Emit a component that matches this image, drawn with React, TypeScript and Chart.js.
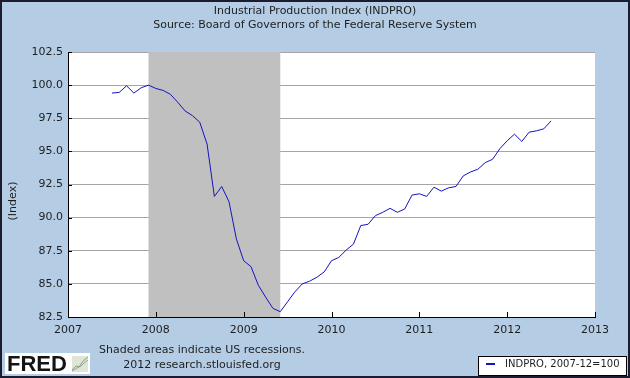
import { useEffect, useRef } from 'react';
import { Chart, registerables } from 'chart.js';

Chart.register(...registerables);

const TITLE = 'Industrial Production Index (INDPRO)';
const SUBTITLE = 'Source: Board of Governors of the Federal Reserve System';
const Y_TITLE = '(Index)';
const SERIES_LABEL = 'INDPRO, 2007-12=100';
const FOOTNOTE_1 = 'Shaded areas indicate US recessions.';
const FOOTNOTE_2 = '2012 research.stlouisfed.org';

const months = [
  '2007-07', '2007-08', '2007-09', '2007-10', '2007-11', '2007-12',
  '2008-01', '2008-02', '2008-03', '2008-04', '2008-05', '2008-06',
  '2008-07', '2008-08', '2008-09', '2008-10', '2008-11', '2008-12',
  '2009-01', '2009-02', '2009-03', '2009-04', '2009-05', '2009-06',
  '2009-07', '2009-08', '2009-09', '2009-10', '2009-11', '2009-12',
  '2010-01', '2010-02', '2010-03', '2010-04', '2010-05', '2010-06',
  '2010-07', '2010-08', '2010-09', '2010-10', '2010-11', '2010-12',
  '2011-01', '2011-02', '2011-03', '2011-04', '2011-05', '2011-06',
  '2011-07', '2011-08', '2011-09', '2011-10', '2011-11', '2011-12',
  '2012-01', '2012-02', '2012-03', '2012-04', '2012-05', '2012-06',
  '2012-07',
];

const values = [
  99.4, 99.45, 99.95, 99.4, 99.8, 100.0,
  99.75, 99.6, 99.3, 98.7, 98.05, 97.7,
  97.2, 95.55, 91.6, 92.35, 91.2, 88.4,
  86.75, 86.3, 84.9, 84.0, 83.15, 82.9,
  83.65, 84.4, 85.0, 85.2, 85.5, 85.9,
  86.75, 87.0, 87.55, 88.0, 89.4, 89.5,
  90.15, 90.4, 90.7, 90.4, 90.65, 91.7,
  91.8, 91.6, 92.3, 92.0, 92.25, 92.35,
  93.15, 93.45, 93.65, 94.15, 94.4, 95.2,
  95.8, 96.3, 95.75, 96.45, 96.55, 96.7,
  97.3,
];

const recessionStart = '2007-12';
const recessionEnd = '2009-06';

const xTicks = [2007, 2008, 2009, 2010, 2011, 2012, 2013];
const yTicks = [82.5, 85.0, 87.5, 90.0, 92.5, 95.0, 97.5, 100.0, 102.5];

const BG = '#B4CDE5';
const TEXT = '#1e1e1e';
const LINE = '#1414C0';
const SHADE = '#C0C0C0';
const GRID = '#A6A6A6';
const FONT = '"DejaVu Sans", Verdana, sans-serif';

const monthToX = (s: string) => {
  const [y, m] = s.split('-').map(Number);
  return y + (m - 1) / 12;
};

const fredPlugin = {
  id: 'fredDecor',
  beforeDraw(chart: any) {
    const { ctx, width, height, chartArea: a } = chart;
    ctx.save();
    ctx.fillStyle = BG;
    ctx.fillRect(0, 0, width, height);
    ctx.fillStyle = '#ffffff';
    ctx.fillRect(a.left, a.top, a.right - a.left, a.bottom - a.top);
    ctx.fillStyle = TEXT;
    ctx.font = `11px ${FONT}`;
    ctx.textAlign = 'center';
    ctx.textBaseline = 'middle';
    ctx.fillText(TITLE, 315, 11);
    ctx.fillText(SUBTITLE, 315, 25);
    ctx.restore();
  },
  beforeDatasetsDraw(chart: any) {
    const { ctx, chartArea: a, scales } = chart;
    const x0 = scales.x.getPixelForValue(monthToX(recessionStart));
    const x1 = scales.x.getPixelForValue(monthToX(recessionEnd));
    ctx.save();
    ctx.fillStyle = SHADE;
    ctx.fillRect(x0, a.top, x1 - x0, a.bottom - a.top);
    ctx.restore();
  },
  afterDatasetsDraw(chart: any) {
    const { ctx, chartArea: a, scales } = chart;
    ctx.save();
    ctx.strokeStyle = '#000';
    ctx.lineWidth = 1;
    ctx.beginPath();
    ctx.moveTo(a.left, a.bottom + 0.5);
    ctx.lineTo(a.right, a.bottom + 0.5);
    for (const t of xTicks) {
      const px = Math.round(scales.x.getPixelForValue(t)) + 0.5;
      ctx.moveTo(px, a.bottom);
      ctx.lineTo(px, a.bottom - 5);
    }
    for (const t of yTicks) {
      const py = Math.round(scales.y.getPixelForValue(t)) + 0.5;
      ctx.moveTo(a.left, py);
      ctx.lineTo(a.left + 4, py);
    }
    ctx.stroke();
    ctx.restore();
  },
  afterDraw(chart: any) {
    const { ctx, width, height } = chart;
    ctx.save();
    // y axis title
    ctx.fillStyle = TEXT;
    ctx.font = `11px ${FONT}`;
    ctx.textAlign = 'center';
    ctx.textBaseline = 'middle';
    ctx.translate(13, 201);
    ctx.rotate(-Math.PI / 2);
    ctx.fillText(Y_TITLE, 0, 0);
    ctx.restore();

    ctx.save();
    ctx.fillStyle = TEXT;
    ctx.font = `11px ${FONT}`;
    ctx.textAlign = 'center';
    ctx.textBaseline = 'middle';
    ctx.fillText(FOOTNOTE_1, 202, 350);
    ctx.fillText(FOOTNOTE_2, 202, 365);

    // FRED logo
    ctx.fillStyle = '#ffffff';
    ctx.fillRect(5, 353, 85, 21);
    ctx.fillStyle = '#141414';
    ctx.font = `bold 22px "Liberation Sans", Arial, sans-serif`;
    ctx.textAlign = 'left';
    ctx.textBaseline = 'alphabetic';
    ctx.fillText('FRED', 7, 371);
    ctx.fillStyle = '#dfe6d8';
    ctx.fillRect(72, 356, 16, 16);
    ctx.strokeStyle = '#7fa86a';
    ctx.lineWidth = 1;
    ctx.beginPath();
    ctx.moveTo(72, 370); ctx.lineTo(76, 366); ctx.lineTo(79, 367); ctx.lineTo(83, 361); ctx.lineTo(88, 357);
    ctx.stroke();
    ctx.strokeStyle = '#9a9a9a';
    ctx.beginPath();
    ctx.moveTo(72, 371); ctx.lineTo(77, 368); ctx.lineTo(81, 366); ctx.lineTo(84, 363); ctx.lineTo(88, 360);
    ctx.stroke();

    // legend
    ctx.fillStyle = '#ffffff';
    ctx.fillRect(478.5, 356.5, 148, 19);
    ctx.strokeStyle = '#000';
    ctx.lineWidth = 1;
    ctx.strokeRect(478.5, 356.5, 148, 19);
    ctx.strokeStyle = LINE;
    ctx.lineWidth = 2;
    ctx.beginPath();
    ctx.moveTo(486, 364);
    ctx.lineTo(495, 364);
    ctx.stroke();
    ctx.fillStyle = TEXT;
    ctx.font = `10px ${FONT}`;
    ctx.textBaseline = 'middle';
    ctx.fillText(SERIES_LABEL, 505, 364);

    // outer frame
    ctx.strokeStyle = '#1c1c30';
    ctx.lineWidth = 2;
    ctx.strokeRect(1, 1, width - 2, height - 2);
    ctx.restore();
  },
};

export default function App() {
  const ref = useRef<HTMLCanvasElement | null>(null);

  useEffect(() => {
    document.body.style.margin = '0';
    const canvas = ref.current;
    if (!canvas) return;
    const chart = new Chart(canvas, {
      type: 'line',
      data: {
        datasets: [
          {
            label: SERIES_LABEL,
            data: months.map((m, i) => ({ x: monthToX(m), y: values[i] })),
            borderColor: LINE,
            borderWidth: 1,
            pointRadius: 0,
            tension: 0,
            fill: false,
          },
        ],
      },
      options: {
        animation: false,
        responsive: false,
        devicePixelRatio: 1,
        layout: { padding: { left: 0, top: 52, right: 35, bottom: 0 } },
        plugins: {
          legend: { display: false },
          tooltip: { enabled: false },
          title: { display: false },
        },
        scales: {
          x: {
            type: 'linear',
            min: 2007,
            max: 2013,
            afterBuildTicks: (scale: any) => {
              scale.ticks = xTicks.map((v) => ({ value: v }));
            },
            afterFit: (scale: any) => {
              scale.height = 61;
            },
            grid: { display: false, drawTicks: false },
            border: { display: true, color: '#000', width: 1 },
            ticks: {
              padding: 7,
              color: TEXT,
              font: { family: FONT, size: 11 },
              maxRotation: 0,
              autoSkip: false,
              callback: (v: any) => String(v),
            },
          },
          y: {
            type: 'linear',
            min: 82.5,
            max: 102.5,
            afterBuildTicks: (scale: any) => {
              scale.ticks = yTicks.map((v) => ({ value: v }));
            },
            afterFit: (scale: any) => {
              scale.width = 68;
            },
            grid: { display: true, color: GRID, lineWidth: 1, drawTicks: false },
            border: { display: true, color: '#000', width: 1 },
            ticks: {
              padding: 5,
              color: TEXT,
              font: { family: FONT, size: 11 },
              autoSkip: false,
              callback: (v: any) => Number(v).toFixed(1),
            },
          },
        },
      },
      plugins: [fredPlugin],
    });
    return () => chart.destroy();
  }, []);

  return (
    <div style={{ position: 'absolute', left: 0, top: 0, width: 630, height: 378 }}>
      <canvas ref={ref} width={630} height={378} style={{ display: 'block', width: 630, height: 378 }} />
    </div>
  );
}
